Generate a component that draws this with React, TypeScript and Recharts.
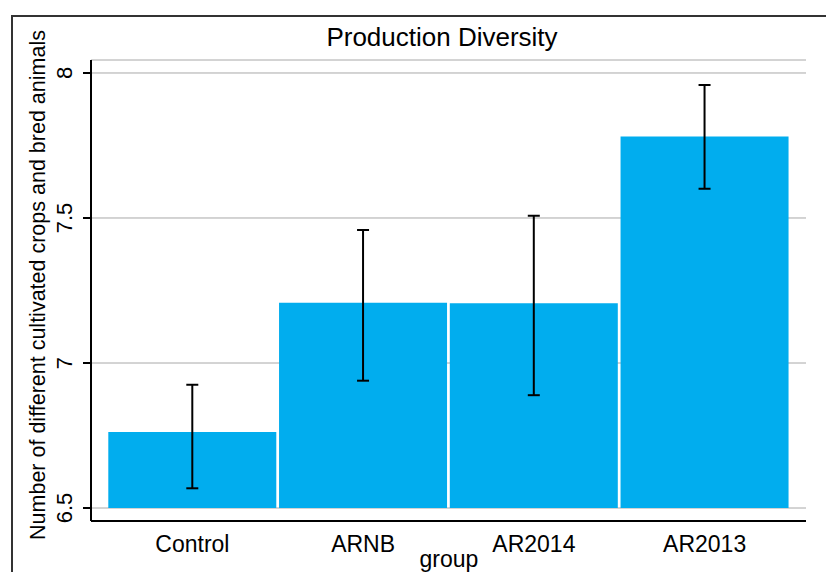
import React from 'react';
import { ComposedChart, Bar, XAxis, YAxis, CartesianGrid } from 'recharts';

const groups = ['Control', 'ARNB', 'AR2014', 'AR2013'];
const means = [6.762, 7.208, 7.206, 7.781];
const ciLower = [6.568, 6.939, 6.889, 7.601];
const ciUpper = [6.925, 7.459, 7.508, 7.959];
const yTicks = [6.5, 7, 7.5, 8];
const barBase = 6.5;

const title = 'Production Diversity';
const yTitle = 'Number of different cultivated crops and bred animals';
const xTitle = 'group';

const data = groups.map((g, i) => ({
  group: g,
  mean: [barBase, means[i]],
  ci: [ciLower[i], ciUpper[i]],
}));

const FONT = '"Liberation Sans", Arial, Helvetica, sans-serif';

const YTick = (props: any) => {
  const { x, y, payload } = props;
  const bx = x - 9;
  return (
    <text
      x={bx}
      y={y}
      transform={`rotate(-90, ${bx}, ${y})`}
      textAnchor="middle"
      fontSize={22}
      fontFamily={FONT}
      fill="#000"
    >
      {payload.value}
    </text>
  );
};

const XTick = (props: any) => {
  const { x, y, payload } = props;
  return (
    <text x={x} y={y + 29} textAnchor="middle" fontSize={23} fontFamily={FONT} fill="#000">
      {payload.value}
    </text>
  );
};

const Whisker = (props: any) => {
  const { x, y, width, height } = props;
  const cx = x + width / 2;
  const cap = 6;
  return (
    <g stroke="#000" strokeWidth={2}>
      <line x1={cx} y1={y} x2={cx} y2={y + height} />
      <line x1={cx - cap} y1={y} x2={cx + cap} y2={y} />
      <line x1={cx - cap} y1={y + height} x2={cx + cap} y2={y + height} />
    </g>
  );
};

const App = () => {
  return (
    <div
      style={{
        position: 'absolute',
        left: 0,
        top: 0,
        width: 826,
        height: 572,
        background: '#fff',
        overflow: 'hidden',
      }}
    >
      <div
        style={{
          position: 'absolute',
          left: 11,
          top: 15,
          width: 900,
          height: 700,
          borderLeft: '2px solid #333',
          borderTop: '2px solid #333',
        }}
      />
      <div style={{ position: 'absolute', left: 0, top: 0 }}>
        <ComposedChart
          width={826}
          height={572}
          data={data}
          barCategoryGap={1.3}
          margin={{ top: 60, right: 20, bottom: 0, left: 41 }}
        >
          <CartesianGrid horizontal vertical={false} stroke="#a8a8a8" strokeWidth={1} />
          <XAxis
            xAxisId="main"
            dataKey="group"
            height={51}
            padding={{ left: 16, right: 16 }}
            tickLine={false}
            tickSize={0}
            tick={<XTick />}
            axisLine={{ stroke: '#000', strokeWidth: 2 }}
          />
          <XAxis
            xAxisId="ci"
            dataKey="group"
            orientation="top"
            height={0}
            hide
            padding={{ left: 16, right: 16 }}
          />
          <YAxis
            width={50}
            domain={[6.4552, 8.0448]}
            allowDataOverflow
            ticks={yTicks}
            interval={0}
            tickSize={8}
            tick={<YTick />}
            tickLine={{ stroke: '#000', strokeWidth: 2 }}
            axisLine={{ stroke: '#000', strokeWidth: 2 }}
          />
          <Bar xAxisId="main" dataKey="mean" fill="#01adee" isAnimationActive={false} />
          <Bar xAxisId="ci" dataKey="ci" shape={<Whisker />} isAnimationActive={false} />
        </ComposedChart>
      </div>
      <svg
        width={826}
        height={572}
        style={{ position: 'absolute', left: 0, top: 0, pointerEvents: 'none' }}
      >
        <text x={442} y={46} textAnchor="middle" fontSize={26} fontFamily={FONT} fill="#000">
          {title}
        </text>
        <text
          x={45}
          y={285}
          transform="rotate(-90, 45, 285)"
          textAnchor="middle"
          fontSize={21.5}
          fontFamily={FONT}
          fill="#000"
        >
          {yTitle}
        </text>
        <text x={449} y={567} textAnchor="middle" fontSize={23} fontFamily={FONT} fill="#000">
          {xTitle}
        </text>
      </svg>
    </div>
  );
};

export default App;
